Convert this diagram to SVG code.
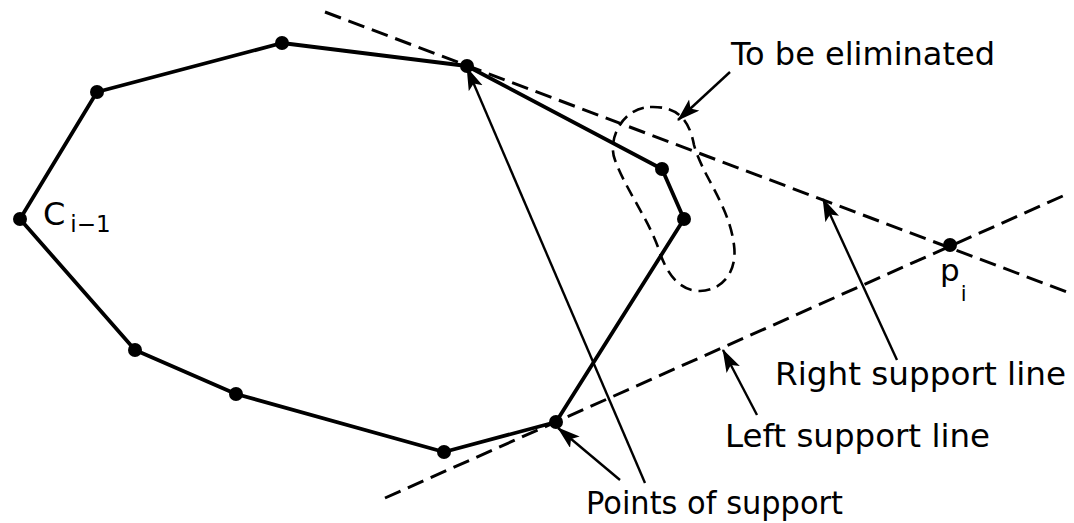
<svg xmlns="http://www.w3.org/2000/svg" width="1074" height="523" viewBox="0 0 1074 523">
<style>
.hull{fill:none;stroke:#000;stroke-width:3.8;stroke-linejoin:round}
.dot{fill:#000}
.sup{fill:none;stroke:#000;stroke-width:3;stroke-dasharray:17 8}
.loop{fill:none;stroke:#000;stroke-width:2.6;stroke-dasharray:12 7}
.arr{fill:none;stroke:#000;stroke-width:2.4;marker-end:url(#ah)}
text{font-family:"DejaVu Sans","Liberation Sans",sans-serif;fill:#000}
.lbl{font-size:32px}
</style>
<defs>
<marker id="ah" markerUnits="userSpaceOnUse" markerWidth="26" markerHeight="16" refX="22" refY="7.5" orient="auto">
<path d="M0,0 L23,7.5 L0,15 L5,7.5 Z" fill="#000"/>
</marker>
</defs>
<rect width="1074" height="523" fill="#fff"/>
<g id="support-lines">
<line class="sup" x1="325" y1="12" x2="1067" y2="292"/>
<line class="sup" x1="385" y1="498" x2="1065" y2="195"/>
</g>
<g id="hull">
<polygon class="hull" points="20,219 97,92 282,43 467,66 662,169 684,219 556,422 444,452 236,394 135,350"/>
</g>
<g id="eliminated-region">
<path class="loop" d="M650,107 C676,106 689,118 694,145 C702,175 729,205 734,245 C738,276 718,291 700,291 C680,291 667,275 659,250 C649,220 626,190 615,160 C607,140 622,108 650,107 Z"/>
</g>
<g id="vertices">
<circle class="dot" cx="20" cy="219" r="7"/>
<circle class="dot" cx="97" cy="92" r="7"/>
<circle class="dot" cx="282" cy="43" r="7"/>
<circle class="dot" cx="467" cy="66" r="7"/>
<circle class="dot" cx="662" cy="169" r="7"/>
<circle class="dot" cx="684" cy="219" r="7"/>
<circle class="dot" cx="556" cy="422" r="7"/>
<circle class="dot" cx="444" cy="452" r="7"/>
<circle class="dot" cx="236" cy="394" r="7"/>
<circle class="dot" cx="135" cy="350" r="7"/>
</g>
<g id="pi">
<circle class="dot" cx="950" cy="245" r="7"/>
<text x="940" y="281" font-size="31">p<tspan font-size="21" dy="20" dx="1">i</tspan></text>
</g>
<g id="ci-1">
<text x="43" y="225" font-size="32">C<tspan font-size="23" dy="7" dx="5">i−1</tspan></text>
</g>
<g id="connectors">
<line class="arr" x1="645" y1="483" x2="467" y2="68"/>
<line class="arr" x1="620" y1="480" x2="558" y2="428"/>
<line class="arr" x1="897" y1="360" x2="823" y2="199"/>
<line class="arr" x1="757" y1="415" x2="723" y2="350"/>
<line class="arr" x1="730" y1="72" x2="678" y2="120"/>
</g>
<g id="labels">
<text class="lbl" x="731" y="65" textLength="264" lengthAdjust="spacingAndGlyphs">To be eliminated</text>
<text class="lbl" x="775" y="385" textLength="291" lengthAdjust="spacingAndGlyphs">Right support line</text>
<text class="lbl" x="725" y="447" textLength="265" lengthAdjust="spacingAndGlyphs">Left support line</text>
<text class="lbl" x="586" y="514" textLength="257" lengthAdjust="spacingAndGlyphs">Points of support</text>
</g>
</svg>
